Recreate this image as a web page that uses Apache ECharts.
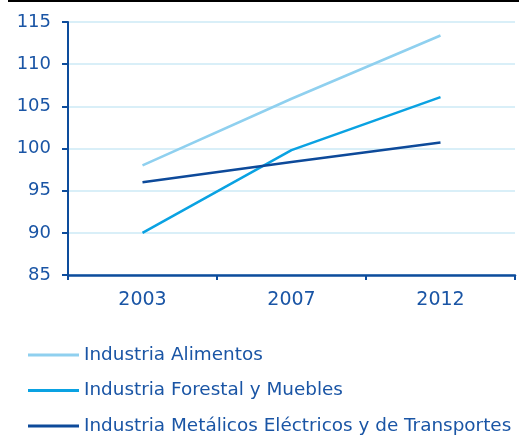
<!DOCTYPE html>
<html>
<head>
<meta charset="utf-8">
<script src="https://cdn.jsdelivr.net/npm/echarts@6/dist/echarts.min.js"></script>
<style>
  html, body { margin: 0; padding: 0; background: #fff; }
  #chart { width: 519px; height: 435px; }
</style>
</head>
<body>
<div id="chart"></div>
<script>
// datos
const years = ['2003', '2007', '2012'];
const alimentos = [98.0, 105.9, 113.4];
const forestal = [90.0, 99.8, 106.1];
const metalicos = [96.0, 98.4, 100.7];
const seriesNames = [
  'Industria Alimentos',
  'Industria Forestal y Muebles',
  'Industria Metálicos Eléctricos y de Transportes'
];

const textColor = '#1a55a5';
const axisColor = '#0d4c9c';
const colors = ['#8fd0ef', '#0aa2e2', '#0d4a9a'];
const font = 'DejaVu Sans';

const myChart = echarts.init(document.getElementById('chart'));

const makeLine = (name, data, color) => ({
  name: name,
  type: 'line',
  data: data,
  symbol: 'none',
  lineStyle: { width: 2.5, color: color },
  itemStyle: { color: color }
});

const option = {
  animation: false,
  color: colors,
  textStyle: { fontFamily: font },
  graphic: [{
    type: 'rect',
    shape: { x: 8, y: 0, width: 511, height: 2 },
    style: { fill: '#000' }
  }],
  grid: { left: 68, right: 4, top: 22, bottom: 160 },
  legend: {
    orient: 'vertical',
    left: 28,
    top: 346,
    padding: 0,
    itemWidth: 51,
    itemHeight: 3,
    itemGap: 17.5,
    icon: 'rect',
    textStyle: { color: textColor, fontSize: 18.4, fontFamily: font, lineHeight: 18 },
    data: seriesNames
  },
  xAxis: {
    type: 'category',
    data: years,
    boundaryGap: true,
    axisLine: { lineStyle: { color: axisColor, width: 2.5 } },
    axisTick: { show: true, length: 5, lineStyle: { color: axisColor, width: 2 } },
    axisLabel: { color: textColor, fontSize: 19, margin: 16 }
  },
  yAxis: {
    type: 'value',
    min: 85,
    max: 115,
    interval: 5,
    axisLine: { show: true, lineStyle: { color: axisColor, width: 2 } },
    axisTick: { show: true, length: 6, lineStyle: { color: axisColor, width: 2 } },
    axisLabel: { color: textColor, fontSize: 18, margin: 17 },
    splitLine: { show: true, lineStyle: { color: '#cdeaf6', width: 1.5 } }
  },
  series: [
    makeLine(seriesNames[0], alimentos, colors[0]),
    makeLine(seriesNames[1], forestal, colors[1]),
    makeLine(seriesNames[2], metalicos, colors[2])
  ]
};

myChart.setOption(option);
</script>
</body>
</html>
